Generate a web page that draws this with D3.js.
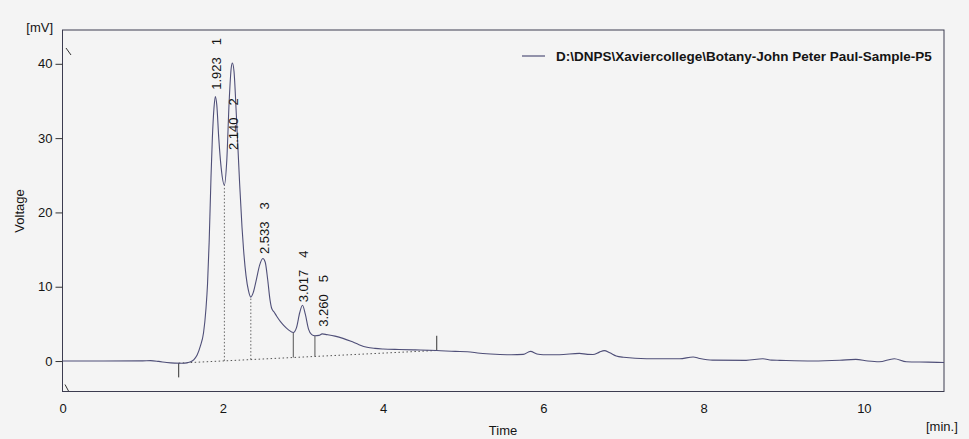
<!DOCTYPE html>
<html>
<head>
<meta charset="utf-8">
<script src="https://cdn.jsdelivr.net/npm/d3@7"></script>
<style>
  html, body { margin: 0; padding: 0; background: #f4f4f4; }
  svg { display: block; }
  text { font-family: "Liberation Sans", Arial, sans-serif; fill: #151515; }
</style>
</head>
<body>
<svg id="chart" width="969" height="439"></svg>
<script>
// ---- data ----
const timeMin = [0, 0.5, 1.0, 1.1, 1.2, 1.3, 1.4, 1.5, 1.55, 1.6, 1.64, 1.68, 1.72, 1.76, 1.79, 1.81, 1.83, 1.853, 1.87, 1.89, 1.907, 1.925, 1.95, 1.98, 2.02, 2.05, 2.08, 2.105, 2.12, 2.14, 2.17, 2.21, 2.24, 2.26, 2.29, 2.32, 2.35, 2.38, 2.42, 2.46, 2.50, 2.53, 2.56, 2.59, 2.61, 2.64, 2.675, 2.72, 2.76, 2.82, 2.88, 2.92, 2.96, 2.995, 3.03, 3.07, 3.11, 3.15, 3.2, 3.24, 3.3, 3.4, 3.5, 3.6, 3.7, 3.8, 3.9, 4.0, 4.2, 4.4, 4.67, 4.9, 5.05, 5.21, 5.4, 5.6, 5.75, 5.84, 5.92, 6.0, 6.2, 6.45, 6.55, 6.62, 6.7, 6.76, 6.83, 6.91, 7.0, 7.29, 7.7, 7.87, 7.95, 8.11, 8.53, 8.74, 8.85, 8.95, 9.36, 9.7, 9.9, 10.05, 10.19, 10.38, 10.53, 10.8, 11.0];
const voltageMV = [0, 0, 0.02, 0.05, -0.05, -0.2, -0.28, -0.3, -0.25, -0.1, 0.2, 0.8, 2.0, 3.8, 7, 10.4, 16, 24.7, 30, 34, 35.6, 34.5, 30, 26, 23.7, 27, 35, 39.4, 40.1, 39.0, 33, 24, 18, 14.9, 11.5, 9.5, 8.6, 9.2, 11, 12.9, 13.8, 13.3, 11, 8.2, 7.1, 6.6, 6.0, 5.3, 4.8, 4.2, 3.85, 4.5, 6.5, 7.5, 6.3, 4.3, 3.55, 3.4, 3.45, 3.65, 3.55, 3.35, 3.05, 2.65, 2.2, 1.85, 1.7, 1.62, 1.55, 1.5, 1.42, 1.3, 1.25, 1.05, 0.92, 0.85, 0.9, 1.3, 0.95, 0.85, 0.85, 1.03, 0.9, 0.88, 1.2, 1.4, 1.1, 0.67, 0.5, 0.31, 0.31, 0.54, 0.35, 0.12, 0.09, 0.31, 0.12, 0.09, 0.0, 0.1, 0.22, 0.0, -0.1, 0.31, -0.1, -0.15, -0.2];

const peakNumbers = [1, 2, 3, 4, 5];
const peakRetention = ["1.923", "2.140", "2.533", "3.017", "3.260"];
const peakLabelAtMV = [36.5, 28.4, 14.4, 7.9, 4.6];

const dropTimes = [2.02, 2.35, 2.88, 3.15];
const dropTopMV = [23.7, 8.6, 3.85, 3.4];
const dropDotted = [true, true, false, false];

const baselineStart = [1.45, -0.28];
const baselineEnd = [4.67, 1.42];
const markerStartBottomMV = -2.2;
const markerEndTopMV = 3.4;

const xTicks = [0, 2, 4, 6, 8, 10];
const yTicks = [0, 10, 20, 30, 40];
const legendLabel = "D:\\DNPS\\Xaviercollege\\Botany-John Peter Paul-Sample-P5";

// ---- drawing ----
const svg = d3.select("#chart");
const L = 62.5, R = 944, T = 30, B = 391.5;
const x = d3.scaleLinear().domain([0, 11]).range([L, R]);
const y = d3.scaleLinear().domain([-4.1, 44.55]).range([B, T]);
const traceColor = "#4f4f78";

// frame
svg.append("rect").attr("x", L).attr("y", T).attr("width", R - L).attr("height", B - T)
  .attr("fill", "none").attr("stroke", "#3c3c50").attr("stroke-width", 1);

// corner marks
svg.append("line").attr("x1", L + 3.5).attr("y1", T + 18).attr("x2", L + 8.5).attr("y2", T + 25)
  .attr("stroke", "#333").attr("stroke-width", 1);
svg.append("line").attr("x1", L + 2.5).attr("y1", B - 7).attr("x2", L + 6).attr("y2", B - 0.5)
  .attr("stroke", "#333").attr("stroke-width", 1);

// y axis
const yAxis = d3.axisLeft(y).tickValues(yTicks).tickSize(7).tickPadding(3).tickFormat(d3.format("d"));
const gy = svg.append("g").attr("transform", `translate(${L},0)`).call(yAxis);
gy.select(".domain").remove();
gy.selectAll("line").attr("stroke", "#333");
gy.selectAll("text").style("font-size", "13px").style("font-family", '"Liberation Sans", Arial, sans-serif').attr("fill", "#151515");

// x axis
const xAxis = d3.axisBottom(x).tickValues(xTicks).tickSize(0).tickPadding(12).tickFormat(d3.format("d"));
const gx = svg.append("g").attr("transform", `translate(0,${B})`).call(xAxis);
gx.select(".domain").remove();
gx.selectAll("text").style("font-size", "13px").style("font-family", '"Liberation Sans", Arial, sans-serif').attr("fill", "#151515");

// axis titles
svg.append("text").attr("x", 53).attr("y", 32).attr("text-anchor", "end").style("font-size", "13px").text("[mV]");
svg.append("text").attr("transform", "translate(24,211) rotate(-90)").attr("text-anchor", "middle").style("font-size", "13px").text("Voltage");
svg.append("text").attr("x", 503).attr("y", 435).attr("text-anchor", "middle").style("font-size", "13px").text("Time");
svg.append("text").attr("x", 926).attr("y", 431).style("font-size", "13px").text("[min.]");

// baseline (dotted)
svg.append("line")
  .attr("x1", x(baselineStart[0])).attr("y1", y(baselineStart[1]))
  .attr("x2", x(baselineEnd[0])).attr("y2", y(baselineEnd[1]))
  .attr("stroke", "#555").attr("stroke-width", 1).attr("stroke-dasharray", "1.5,2.5");

function baseAt(t) {
  const f = (t - baselineStart[0]) / (baselineEnd[0] - baselineStart[0]);
  return baselineStart[1] + f * (baselineEnd[1] - baselineStart[1]);
}

// drop lines
dropTimes.forEach((t, i) => {
  svg.append("line")
    .attr("x1", x(t)).attr("x2", x(t))
    .attr("y1", y(baseAt(t))).attr("y2", y(dropTopMV[i]))
    .attr("stroke", dropDotted[i] ? "#666" : "#555")
    .attr("stroke-width", 1)
    .attr("stroke-dasharray", dropDotted[i] ? "1.5,2" : null);
});

// start / end markers
svg.append("line").attr("x1", x(baselineStart[0])).attr("x2", x(baselineStart[0]))
  .attr("y1", y(baselineStart[1])).attr("y2", y(markerStartBottomMV)).attr("stroke", "#333");
svg.append("line").attr("x1", x(baselineEnd[0])).attr("x2", x(baselineEnd[0]))
  .attr("y1", y(baselineEnd[1])).attr("y2", y(markerEndTopMV)).attr("stroke", "#333");

// trace
const pts = timeMin.map((t, i) => [t, voltageMV[i]]);
const line = d3.line().x(d => x(d[0])).y(d => y(d[1])).curve(d3.curveMonotoneX);
svg.append("path").datum(pts).attr("d", line)
  .attr("fill", "none").attr("stroke", traceColor).attr("stroke-width", 1.1);

// peak labels
peakRetention.forEach((rt, i) => {
  const px = x(+rt) + 4;
  const py = y(peakLabelAtMV[i]);
  const t1 = svg.append("text").attr("transform", `translate(${px},${py}) rotate(-90)`)
    .style("font-size", "13px").text(rt);
  const w = t1.node().getComputedTextLength();
  svg.append("text").attr("transform", `translate(${px},${py - w - 12}) rotate(-90)`)
    .style("font-size", "13px").text(String(peakNumbers[i]));
});

// legend
svg.append("line").attr("x1", 522).attr("x2", 545).attr("y1", 56).attr("y2", 56)
  .attr("stroke", traceColor).attr("stroke-width", 1.2);
svg.append("text").attr("x", 556).attr("y", 60.5).style("font-size", "13.5px").style("font-weight", "bold")
  .text(legendLabel);
</script>
</body>
</html>
